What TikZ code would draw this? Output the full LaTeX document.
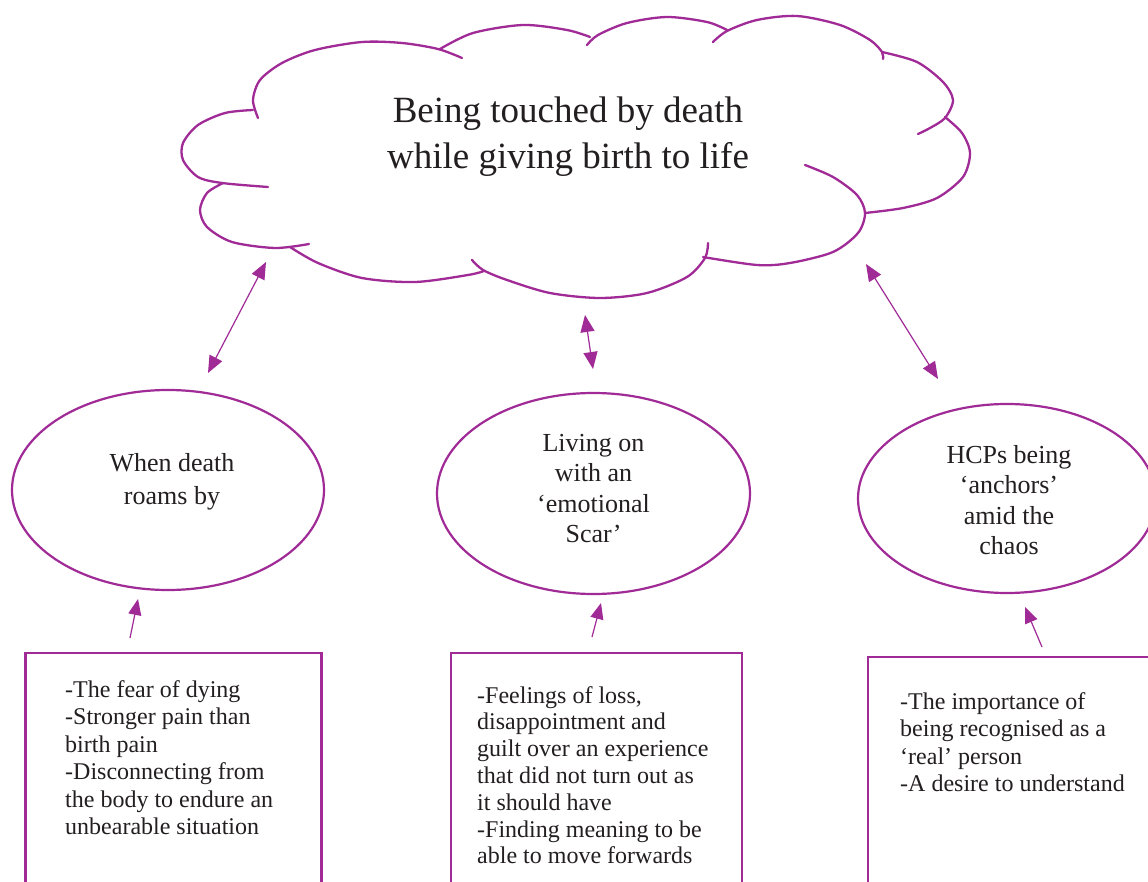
\documentclass[tikz,border=0pt]{standalone}
\usepackage{fontspec}
\setmainfont{Liberation Serif}
\usetikzlibrary{shapes.geometric,arrows.meta}
\definecolor{plum}{RGB}{160,42,150}
\definecolor{ink}{RGB}{35,31,32}
\begin{document}
\begin{tikzpicture}[x=1pt,y=-1pt,
  cloudline/.style={draw=plum, line width=2.3pt, line cap=round},
  oval/.style={ellipse, draw=plum, line width=2.2pt, inner sep=0pt, outer sep=0pt},
  listbox/.style={rectangle, draw=plum, line width=2.3pt, inner sep=0pt, outer sep=0pt, anchor=north west},
  link/.style={draw=plum, line width=1.2pt, {Triangle[length=17pt,width=14pt]}-{Triangle[length=17pt,width=14pt]}},
  feed/.style={draw=plum, line width=1.2pt, -{Triangle[length=16pt,width=13pt]}},
  ovaltext/.style={text=ink, align=center, inner sep=0pt, anchor=north, font=\fontsize{26}{30.5}\selectfont},
  listtext/.style={text=ink, align=left, inner sep=0pt, anchor=north west, font=\fontsize{24}{27.5}\selectfont},
]
\useasboundingbox (0,0) rectangle (1148,882);
\clip (0,0) rectangle (1148,882);
\fill[white] (0,0) rectangle (1148,882);

% cloud
\draw[cloudline] plot[smooth] coordinates {(258,118) (253,100) (260,80) (282,63) (315,50) (362,42) (402,43) (438,49) (462,58)};
\draw[cloudline] plot[smooth] coordinates {(440,49) (473,33) (523,25) (567,30) (590,37)};
\draw[cloudline] plot[smooth] coordinates {(587,45) (598,35) (627,23) (667,17) (707,22) (727,30)};
\draw[cloudline] plot[smooth] coordinates {(713,42) (727,31) (757,20) (797,16) (840,25) (870,40) (882,52) (883,59)};
\draw[cloudline] plot[smooth] coordinates {(882,52) (917,62) (943,82) (953,100) (945,118) (930,128) (918,134)};
\draw[cloudline] plot[smooth] coordinates {(945,117) (962,133) (970,153) (963,177) (937,198) (903,208) (865,213)};
\draw[cloudline] plot[smooth] coordinates {(805,165) (833,177) (857,195) (865,213) (858,233) (833,252) (790,263) (757,265) (703,257)};
\draw[cloudline] plot[smooth] coordinates {(708,243) (705,258) (687,277) (647,293) (600,298) (550,293) (507,280) (483,270) (472,260)};
\draw[cloudline] plot[smooth] coordinates {(484,271) (468,275) (415,282) (362,278) (318,263) (290,247)};
\draw[cloudline] plot[smooth] coordinates {(223,183) (207,193) (200,210) (207,227) (232,242) (275,248) (309,244)};
\draw[cloudline] plot[smooth] coordinates {(253,110) (225,113) (198,125) (183,143) (183,160) (198,177) (222,183) (268,187)};

\node[text=ink, align=center, inner sep=0pt, anchor=north, font=\fontsize{37}{46}\selectfont] (title) at (568,97) {Being touched by death\\while giving birth to life};

% ovals
\node[oval, minimum width=312pt, minimum height=200pt] (death) at (168,490) {};
\node[oval, minimum width=313pt, minimum height=201pt] (scar) at (593.5,493.5) {};
\node[oval, minimum width=298pt, minimum height=189pt] (hcp) at (1007,498.5) {};

\node[ovaltext, font=\fontsize{26}{33}\selectfont] (deathtext) at (172,453) {When death\\roams by};
\node[ovaltext] (scartext) at (593.5,434) {Living on\\with an\\‘emotional\\Scar’};
\node[ovaltext] (hcptext) at (1009,445) {HCPs being\\‘anchors’\\amid the\\chaos};

% boxes
\node[listbox, minimum width=296pt, minimum height=260pt] (fearbox) at (25.5,653) {};
\node[listbox, minimum width=291pt, minimum height=260pt] (lossbox) at (451,653) {};
\node[listbox, minimum width=300pt, minimum height=260pt] (anchorbox) at (868,657) {};

\node[listtext] (feartext) at (65,680) {-The fear of dying\\-Stronger pain than\\birth pain\\-Disconnecting from\\the body to endure an\\unbearable situation};
\node[listtext, font=\fontsize{24}{26.8}\selectfont] (losstext) at (477,686) {-Feelings of loss,\\disappointment and\\guilt over an experience\\that did not turn out as\\it should have\\-Finding meaning to be\\able to move forwards};
\node[listtext] (anchortext) at (900,692) {-The importance of\\being recognised as a\\‘real’ person\\-A desire to understand};

% connectors
\coordinate (l1a) at (266,262); \coordinate (l1b) at (208,373);
\coordinate (l2a) at (585,315); \coordinate (l2b) at (593,369);
\coordinate (l3a) at (866,264); \coordinate (l3b) at (938,379);
\coordinate (f1a) at (130,638); \coordinate (f1b) at (138,599);
\coordinate (f2a) at (592,637); \coordinate (f2b) at (601,603);
\coordinate (f3a) at (1042,647); \coordinate (f3b) at (1025,607);
\draw[link] (l1a) -- (l1b);
\draw[link] (l2a) -- (l2b);
\draw[link] (l3a) -- (l3b);
\draw[feed] (f1a) -- (f1b);
\draw[feed] (f2a) -- (f2b);
\draw[feed] (f3a) -- (f3b);
\end{tikzpicture}
\end{document}
